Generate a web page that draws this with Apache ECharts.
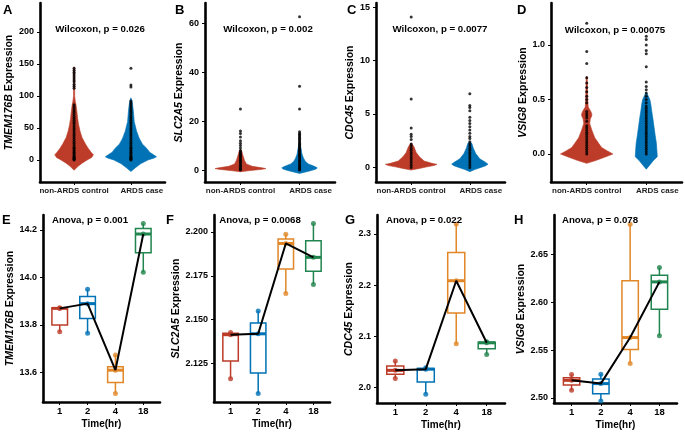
<!DOCTYPE html>
<html><head><meta charset="utf-8">
<script src="https://cdn.jsdelivr.net/npm/echarts@6/dist/echarts.min.js"></script>
<style>html,body{margin:0;padding:0;background:#fff}#c{width:685px;height:434px}</style>
</head><body><div id="c"></div>
<script>
// ---------------- DATA ----------------
const topGroups = ['non-ARDS control', 'ARDS case'];
const timeLabels = ['1', '2', '4', '18'];
const topGenes = ['TMEM176B', 'SLC2A5', 'CDC45', 'VSIG8'];
const wilcoxonLabels = ['Wilcoxon, p = 0.026', 'Wilcoxon, p = 0.002', 'Wilcoxon, p = 0.0077', 'Wilcoxon, p = 0.00075'];
const anovaLabels = ['Anova, p = 0.001', 'Anova, p = 0.0068', 'Anova, p = 0.022', 'Anova, p = 0.078'];
const panelLetters = ['A', 'B', 'C', 'D', 'E', 'F', 'G', 'H'];

// y tick values
const yTicksA = [0, 50, 100, 150, 200];
const yTicksB = [0, 20, 40, 60];
const yTicksC = [0, 5, 10, 15];
const yTicksD = [0, 0.5, 1.0];
const yTicksE = [13.6, 13.8, 14.0, 14.2];
const yTicksF = [2.125, 2.150, 2.175, 2.200];
const yTicksG = [2.0, 2.1, 2.2, 2.3];
const yTicksH = [2.50, 2.55, 2.60, 2.65];

// y axis extents
const yRangeA = [-34.4, 245];
const yRangeB = [-4.9, 68.4];
const yRangeC = [-1.37, 15.4];
const yRangeD = [-0.257, 1.385];
const yRangeE = [13.476, 14.263];
const yRangeF = [2.1032, 2.2096];
const yRangeG = [1.970, 2.337];
const yRangeH = [2.4948, 2.6907];

// violin density profiles: y value and half-width (x-axis units)
const violinA_ctrl_y = [-16, -10, -5, 0, 4, 8, 12, 18, 25, 35, 45, 55, 65, 75, 85, 92, 100, 120, 145];
const violinA_ctrl_w = [0, 0.07, 0.14, 0.23, 0.31, 0.34, 0.30, 0.25, 0.20, 0.14, 0.105, 0.08, 0.062, 0.05, 0.035, 0.02, 0.01, 0.01, 0.008];
const violinA_case_y = [-18, -12, -6, 0, 3, 5, 8, 12, 18, 25, 34, 45, 60, 75, 86, 92, 97];
const violinA_case_w = [0, 0.08, 0.17, 0.30, 0.41, 0.45, 0.40, 0.33, 0.28, 0.2, 0.146, 0.1, 0.058, 0.045, 0.03, 0.02, 0];
const violinB_ctrl_y = [-0.7, -0.3, 0, 0.3, 0.6, 1.0, 1.5, 2.5, 4, 6, 7.5, 8.5];
const violinB_ctrl_w = [0, 0.135, 0.25, 0.37, 0.43, 0.34, 0.2, 0.1, 0.068, 0.042, 0.025, 0];
const violinB_case_y = [-1.4, -0.8, -0.2, 0.4, 0.9, 1.5, 2.5, 3.5, 4.8, 6.5, 8.9, 11.6];
const violinB_case_w = [0, 0.1, 0.2, 0.28, 0.3, 0.25, 0.15, 0.1, 0.068, 0.042, 0.025, 0];
const violinC_ctrl_y = [-0.25, -0.1, 0.05, 0.18, 0.28, 0.4, 0.6, 1.0, 1.4, 1.9, 2.25];
const violinC_ctrl_w = [0, 0.14, 0.27, 0.39, 0.44, 0.34, 0.22, 0.14, 0.085, 0.05, 0.01];
const violinC_case_y = [-0.4, -0.2, 0, 0.15, 0.3, 0.5, 0.8, 1.3, 1.8, 2.25, 2.4];
const violinC_case_w = [0, 0.085, 0.19, 0.27, 0.31, 0.26, 0.17, 0.1, 0.06, 0.034, 0];
const violinD_ctrl_y = [-0.086, -0.06, -0.03, 0, 0.03, 0.06, 0.098, 0.15, 0.22, 0.28, 0.32, 0.35, 0.37, 0.40, 0.43, 0.5, 0.6, 0.71];
const violinD_ctrl_w = [0, 0.15, 0.3, 0.44, 0.34, 0.25, 0.2, 0.135, 0.085, 0.05, 0.06, 0.085, 0.085, 0.06, 0.025, 0.017, 0.013, 0.008];
const violinD_case_y = [-0.14, -0.1, -0.06, -0.025, 0.02, 0.098, 0.17, 0.25, 0.33, 0.40, 0.46, 0.5, 0.53, 0.56];
const violinD_case_w = [0, 0.06, 0.12, 0.185, 0.18, 0.17, 0.15, 0.13, 0.11, 0.09, 0.075, 0.06, 0.035, 0.008];

// individual expression points (top row)
const ptsA_ctrl = [0, 1, 2, 3, 4, 5, 6, 8, 10, 12, 14, 16, 18, 20, 23, 26, 29, 32, 35, 38, 41, 44, 47, 50, 53, 56, 59, 62, 65, 68, 71, 74, 77, 80, 83, 86, 112, 115, 118, 122, 125, 128, 131, 134, 137, 140, 143];
const ptsA_case = [0, 1, 2, 3, 4, 5, 6, 8, 10, 12, 14, 16, 18, 20, 23, 26, 29, 32, 35, 38, 41, 44, 47, 50, 53, 56, 59, 62, 65, 68, 71, 74, 77, 80, 83, 86, 89, 92, 114, 117, 143];
const ptsB_ctrl = [0, 0.3, 0.6, 1, 1.5, 2, 2.5, 3, 3.5, 4, 4.5, 5, 5.5, 6, 6.5, 7, 7.5, 8, 9, 10, 11, 12, 13.5, 15, 16, 25];
const ptsB_case = [0, 0.3, 0.6, 1, 1.5, 2, 2.5, 3, 3.5, 4, 4.5, 5, 5.5, 6, 6.5, 7, 7.5, 8, 8.5, 9, 9.5, 10, 10.5, 11, 11.5, 12, 12.5, 13, 13.5, 14, 14.5, 15, 15.7, 25, 34.3, 62.8];
const ptsC_ctrl = [0, 0.2, 0.4, 0.6, 0.8, 1.0, 1.2, 1.4, 1.6, 1.8, 2.0, 2.2, 2.6, 2.9, 3.1, 3.7, 6.4, 14.1];
const ptsC_case = [0, 0.2, 0.4, 0.6, 0.8, 1.0, 1.2, 1.4, 1.6, 1.8, 2.0, 2.2, 2.4, 2.7, 2.9, 3.2, 3.5, 3.8, 4.1, 4.4, 4.7, 5.3, 5.6, 5.8, 6.9];
const ptsD_ctrl = [0, 0.02, 0.04, 0.06, 0.08, 0.1, 0.12, 0.14, 0.16, 0.18, 0.2, 0.22, 0.24, 0.26, 0.3, 0.33, 0.35, 0.37, 0.39, 0.47, 0.5, 0.53, 0.57, 0.61, 0.65, 0.70, 0.83, 0.94, 1.2];
const ptsD_case = [0, 0.02, 0.04, 0.06, 0.08, 0.1, 0.12, 0.14, 0.16, 0.18, 0.2, 0.22, 0.24, 0.26, 0.28, 0.3, 0.32, 0.34, 0.36, 0.38, 0.4, 0.42, 0.44, 0.47, 0.5, 0.53, 0.56, 0.59, 0.62, 0.66, 0.8, 0.92, 0.95, 1.0, 1.05, 1.08];

// bottom row: box stats [min, q1, median, q3, max] per time point
const boxE = [[13.772, 13.80, 13.87, 13.873, 13.873], [13.765, 13.827, 13.89, 13.92, 13.95], [13.512, 13.558, 13.61, 13.624, 13.674], [14.022, 14.104, 14.183, 14.206, 14.227]];
const boxF = [[2.1165, 2.1265, 2.1415, 2.1423, 2.1427], [2.108, 2.1197, 2.142, 2.1481, 2.155], [2.165, 2.1789, 2.1934, 2.1959, 2.1987], [2.170, 2.1776, 2.1855, 2.195, 2.2048]];
const boxG = [[2.018, 2.0259, 2.0337, 2.0421, 2.0518], [1.987, 2.011, 2.036, 2.0375, 2.039], [2.0855, 2.1458, 2.2087, 2.2638, 2.3195], [2.0648, 2.0758, 2.0875, 2.0885, 2.0895]];
const boxH = [[2.508, 2.5136, 2.5184, 2.5212, 2.5244], [2.497, 2.5045, 2.515, 2.5199, 2.5247], [2.536, 2.5505, 2.563, 2.6221, 2.681], [2.565, 2.5926, 2.621, 2.628, 2.636]];
// bottom row: replicate points per time point
const ptsE = [[13.772, 13.87, 13.873], [13.765, 13.89, 13.95], [13.512, 13.61, 13.674], [14.022, 14.183, 14.227]];
const ptsF = [[2.1165, 2.1415, 2.1427], [2.108, 2.142, 2.155], [2.165, 2.1934, 2.1987], [2.170, 2.1855, 2.2048]];
const ptsG = [[2.018, 2.0337, 2.0518], [1.987, 2.036, 2.039], [2.0855, 2.2087, 2.3195], [2.0648, 2.0875, 2.0895]];
const ptsH = [[2.508, 2.5184, 2.5244], [2.497, 2.515, 2.5247], [2.536, 2.563, 2.681], [2.565, 2.621, 2.636]];
const bottomGenes = ['TMEM176B', 'SLC2A5', 'CDC45', 'VSIG8'];

// ---------------- STYLE / LAYOUT ----------------
const FONT = '"Liberation Sans", Arial, Helvetica, sans-serif';
const TOP_COLORS = ['#BC3C29', '#0072B5'];
const BOT_COLORS = ['#BC3C29', '#0072B5', '#E18727', '#20854E'];
const grids = [
  { left: 40, top: 3, width: 125, height: 179 },
  { left: 205, top: 3, width: 130, height: 179 },
  { left: 376, top: 3, width: 129, height: 179 },
  { left: 551, top: 3, width: 131, height: 179 },
  { left: 43, top: 215, width: 117, height: 187 },
  { left: 214, top: 215, width: 116, height: 187 },
  { left: 377, top: 215, width: 128, height: 188 },
  { left: 554, top: 215, width: 123, height: 188 }
];
const nameGaps = [23, 15, 17, 19, 26, 30, 22, 27];

const yRanges = [yRangeA, yRangeB, yRangeC, yRangeD, yRangeE, yRangeF, yRangeG, yRangeH];
const yTicks = [yTicksA, yTicksB, yTicksC, yTicksD, yTicksE, yTicksF, yTicksG, yTicksH];
const yDecimals = [0, 0, 0, 1, 1, 3, 1, 2];
const violins = [
  [[violinA_ctrl_y, violinA_ctrl_w], [violinA_case_y, violinA_case_w]],
  [[violinB_ctrl_y, violinB_ctrl_w], [violinB_case_y, violinB_case_w]],
  [[violinC_ctrl_y, violinC_ctrl_w], [violinC_case_y, violinC_case_w]],
  [[violinD_ctrl_y, violinD_ctrl_w], [violinD_case_y, violinD_case_w]]
];
const topPts = [[ptsA_ctrl, ptsA_case], [ptsB_ctrl, ptsB_case], [ptsC_ctrl, ptsC_case], [ptsD_ctrl, ptsD_case]];
const boxes = [boxE, boxF, boxG, boxH];
const botPts = [ptsE, ptsF, ptsG, ptsH];

const axisLineStyle = { color: '#000', width: 2.6 };
const catStyle = { fontFamily: FONT, fontWeight: 'bold', fontSize: 8, color: '#222' };

const xAxes = [], yAxes = [], series = [];
for (let i = 0; i < 8; i++) {
  const top = i < 4;
  const n = top ? 2 : 4;
  const cats = top ? topGroups : timeLabels;
  const tv = cats.map((c, k) => k + 1);
  xAxes.push({
    gridIndex: i, type: 'value', min: 0.4, max: n + 0.6,
    axisLine: { show: true, onZero: false, lineStyle: axisLineStyle },
    axisTick: { show: true, customValues: tv, length: 3, lineStyle: { color: '#000', width: 1 } },
    axisLabel: top ? {
      customValues: tv,
      formatter: v => (Math.round(v) === 2 ? '{s|' : '{c|') + cats[Math.round(v) - 1] + '}',
      margin: 5,
      rich: { c: catStyle, s: Object.assign({ padding: [0, 0, 0, 22] }, catStyle) }
    } : {
      customValues: tv, formatter: v => cats[Math.round(v) - 1],
      fontFamily: FONT, fontWeight: 'bold', color: '#000', fontSize: 9.5, margin: 4
    },
    splitLine: { show: false },
    name: top ? '' : 'Time(hr)', nameLocation: 'middle', nameGap: 17,
    nameTextStyle: { fontFamily: FONT, fontWeight: 'bold', fontSize: 10, color: '#000' }
  });
  const gene = top ? topGenes[i] : bottomGenes[i - 4];
  yAxes.push({
    gridIndex: i, type: 'value', min: yRanges[i][0], max: yRanges[i][1],
    axisLine: { show: true, onZero: false, lineStyle: axisLineStyle },
    axisTick: { show: true, customValues: yTicks[i], length: 3, lineStyle: { color: '#000', width: 1 } },
    axisLabel: {
      customValues: yTicks[i], formatter: v => v.toFixed(yDecimals[i]),
      fontFamily: FONT, fontWeight: 'bold', color: '#000', fontSize: 9, margin: 6
    },
    splitLine: { show: false },
    name: '{g|' + gene + '} Expression', nameLocation: 'middle', nameGap: nameGaps[i], nameRotate: 90,
    nameTextStyle: {
      fontFamily: FONT, fontWeight: 'bold', fontSize: 10.5, color: '#000',
      rich: { g: { fontFamily: FONT, fontWeight: 'bold', fontStyle: 'italic', fontSize: 10.5, color: '#000' } }
    }
  });

  if (top) {
    const prof = violins[i];
    series.push({
      type: 'custom', xAxisIndex: i, yAxisIndex: i, silent: true, z: 2,
      data: prof.map((p, k) => [k + 1]),
      renderItem(params, api) {
        const k = params.dataIndex; const xc = k + 1;
        const ys = prof[k][0], ws = prof[k][1];
        const pts = [];
        for (let j = 0; j < ys.length; j++) pts.push(api.coord([xc + ws[j], ys[j]]));
        for (let j = ys.length - 1; j >= 0; j--) pts.push(api.coord([xc - ws[j], ys[j]]));
        return { type: 'polygon', shape: { points: pts }, style: { fill: TOP_COLORS[k], stroke: TOP_COLORS[k], lineWidth: 0.6 } };
      }
    });
    const data = [];
    topPts[i].forEach((arr, k) => arr.forEach(v => data.push([k + 1, v])));
    series.push({
      type: 'scatter', xAxisIndex: i, yAxisIndex: i, silent: true, z: 3,
      symbolSize: 3, itemStyle: { color: '#000' }, data
    });
  } else {
    const b = boxes[i - 4];
    series.push({
      type: 'custom', xAxisIndex: i, yAxisIndex: i, silent: true, z: 2,
      data: b.map((s, k) => [k + 1, ...s]),
      renderItem(params, api) {
        const k = params.dataIndex; const x = api.value(0);
        const mn = api.value(1), q1 = api.value(2), md = api.value(3), q3 = api.value(4), mx = api.value(5);
        const hw = 0.28; const col = BOT_COLORS[k];
        const pMin = api.coord([x, mn]), pQ1 = api.coord([x, q1]), pQ3 = api.coord([x, q3]), pMax = api.coord([x, mx]);
        const tl = api.coord([x - hw, q3]), br = api.coord([x + hw, q1]);
        const ml = api.coord([x - hw, md]), mr = api.coord([x + hw, md]);
        return { type: 'group', children: [
          { type: 'line', shape: { x1: pQ3[0], y1: pQ3[1], x2: pMax[0], y2: pMax[1] }, style: { stroke: col, lineWidth: 1.5 } },
          { type: 'line', shape: { x1: pQ1[0], y1: pQ1[1], x2: pMin[0], y2: pMin[1] }, style: { stroke: col, lineWidth: 1.5 } },
          { type: 'rect', shape: { x: tl[0], y: tl[1], width: br[0] - tl[0], height: br[1] - tl[1] }, style: { fill: '#fff', stroke: col, lineWidth: 1.5 } },
          { type: 'line', shape: { x1: ml[0], y1: ml[1], x2: mr[0], y2: mr[1] }, style: { stroke: col, lineWidth: 3 } }
        ] };
      }
    });
    const data = [];
    botPts[i - 4].forEach((arr, k) => arr.forEach(v => data.push({ value: [k + 1, v], itemStyle: { color: BOT_COLORS[k] } })));
    series.push({
      type: 'scatter', xAxisIndex: i, yAxisIndex: i, silent: true, z: 3,
      symbolSize: 5, data
    });
    series.push({
      type: 'line', xAxisIndex: i, yAxisIndex: i, silent: true, z: 4,
      symbol: 'none', lineStyle: { color: '#000', width: 2 },
      data: b.map((s, k) => [k + 1, s[2]])
    });
  }
}

// text annotations
const annotPos = [[100, 29], [268, 29], [440, 29], [615, 30], [90, 220], [260, 220], [424, 220], [600, 220]];
const letterPos = [[3, 10], [175, 10], [347, 10], [517, 10], [2, 220], [166, 220], [345, 220], [514, 220]];
const graphic = [];
for (let i = 0; i < 8; i++) {
  graphic.push({ type: 'text', x: annotPos[i][0], y: annotPos[i][1], silent: true, z: 10,
    style: { text: i < 4 ? wilcoxonLabels[i] : anovaLabels[i - 4], font: 'bold 9.7px ' + FONT, fill: '#000', align: 'center', verticalAlign: 'middle' } });
  graphic.push({ type: 'text', x: letterPos[i][0], y: letterPos[i][1], silent: true, z: 10,
    style: { text: panelLetters[i], font: 'bold 13px ' + FONT, fill: '#000', align: 'left', verticalAlign: 'middle' } });
}

const chart = echarts.init(document.getElementById('c'), null, { renderer: 'canvas' });
chart.setOption({
  backgroundColor: '#fff',
  animation: false,
  grid: grids.map(g => Object.assign({ containLabel: false, outerBoundsMode: 'none' }, g)),
  xAxis: xAxes,
  yAxis: yAxes,
  series,
  graphic
});
</script></body></html>
